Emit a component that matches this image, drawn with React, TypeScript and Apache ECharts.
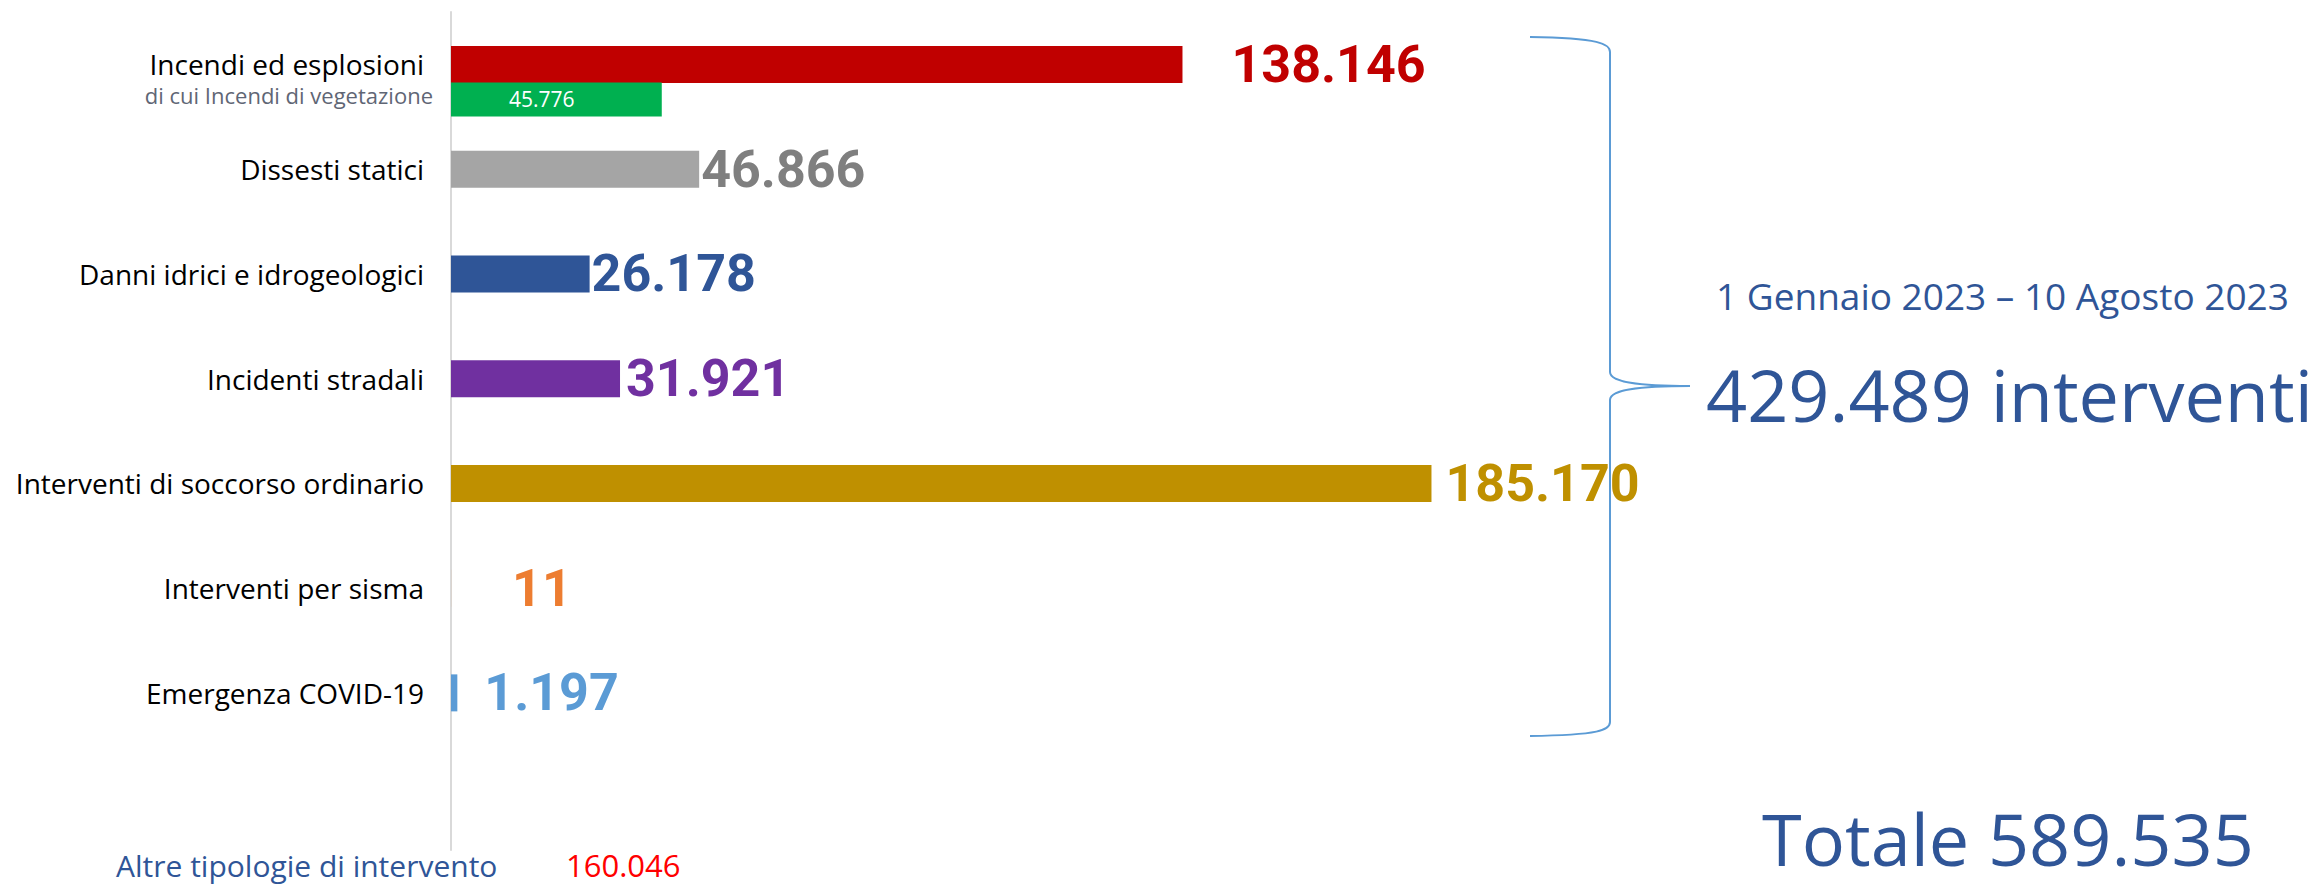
import React, { useEffect, useRef } from "react";
import * as echarts from "echarts";

const categories = [
  "Incendi ed esplosioni",
  "Dissesti statici",
  "Danni idrici e idrogeologici",
  "Incidenti stradali",
  "Interventi di soccorso ordinario",
  "Interventi per sisma",
  "Emergenza COVID-19",
  "",
];
const values = [138146, 46866, 26178, 31921, 185170, 11, 1197];
const barColors = ["#C00000", "#A5A5A5", "#2F5597", "#7030A0", "#BF9000", "#ED7D31", "#5B9BD5"];
const labelColors = ["#C00000", "#7F7F7F", "#2F5597", "#7030A0", "#BF9000", "#ED7D31", "#5B9BD5"];
const labelGaps = [49, 2, 2, 6, 14, 61, 27];

const subCategories = ["di cui Incendi di vegetazione", "", "", "", "", "", "", ""];
const subValues = [45776];

const periodLabel = "1 Gennaio 2023 \u2013 10 Agosto 2023";
const otherLabel = "Altre tipologie di intervento";
const otherValue = 160046;

const fmt = (n: number) => String(n).replace(/\B(?=(\d{3})+(?!\d))/g, ".");

const BLUE = "#2F5597";
const BRACE = "#5B9BD5";
const FONT = "'Open Sans', 'Noto Sans', sans-serif";
const NUM_FONT = "Roboto, 'Noto Sans', sans-serif";

export default function App() {
  const ref = useRef<HTMLDivElement>(null);

  useEffect(() => {
    if (!ref.current) return;
    const chart = echarts.init(ref.current, null, { renderer: "svg" });
    const totalShown = values.reduce((a, b) => a + b, 0);
    const grandTotal = totalShown + otherValue;

    const gridLeft = 451;
    const gridWidth = 1059;

    const braceStyle = { stroke: BRACE, lineWidth: 2, fill: "none" };

    chart.setOption({
      animation: false,
      backgroundColor: "#ffffff",
      grid: [
        { left: gridLeft, top: 12, width: gridWidth, height: 838, containLabel: false },
        { left: gridLeft, top: 47, width: gridWidth, height: 838, containLabel: false },
      ],
      xAxis: [
        { type: "value", gridIndex: 0, min: 0, max: 200000, show: false },
        { type: "value", gridIndex: 1, min: 0, max: 230000, show: false },
      ],
      yAxis: [
        {
          type: "category",
          gridIndex: 0,
          inverse: true,
          data: categories,
          axisLine: { show: true, lineStyle: { color: "#D9D9D9", width: 2 } },
          axisTick: { show: false },
          splitLine: { show: false },
          axisLabel: {
            margin: 27,
            fontSize: 28,
            lineHeight: 30,
            color: "#000000",
            fontFamily: FONT,
          },
        },
        {
          type: "category",
          gridIndex: 1,
          inverse: true,
          data: subCategories,
          axisLine: { show: false },
          axisTick: { show: false },
          splitLine: { show: false },
          axisLabel: {
            margin: 18,
            fontSize: 22,
            color: "#5F6675",
            fontFamily: FONT,
            verticalAlign: "bottom",
            lineHeight: 8,
          },
        },
      ],
      series: [
        {
          type: "bar",
          xAxisIndex: 0,
          yAxisIndex: 0,
          barWidth: 37,
          data: values.map((v, i) => ({
            value: v,
            itemStyle: { color: barColors[i] },
            label: { color: labelColors[i], distance: labelGaps[i] },
          })),
          label: {
            show: true,
            position: "right",
            fontFamily: NUM_FONT,
            fontWeight: "bold",
            fontSize: 52,
            formatter: (p: any) => fmt(p.value),
          },
        },
        {
          type: "bar",
          xAxisIndex: 1,
          yAxisIndex: 1,
          barWidth: 34,
          itemStyle: { color: "#00B050" },
          data: subValues,
          label: {
            show: true,
            position: [58, "50%"],
            verticalAlign: "middle",
            color: "#ffffff",
            fontFamily: FONT,
            fontSize: 21,
            formatter: (p: any) => fmt(p.value),
          },
        },
      ],
      graphic: [
        // curly brace
        { type: "bezierCurve", shape: { x1: 1530, y1: 37, x2: 1610, y2: 52, cpx1: 1600, cpy1: 38, cpx2: 1610, cpy2: 44 }, style: braceStyle },
        { type: "line", shape: { x1: 1610, y1: 52, x2: 1610, y2: 372 }, style: braceStyle },
        { type: "bezierCurve", shape: { x1: 1610, y1: 372, x2: 1690, y2: 386, cpx1: 1610, cpy1: 384, cpx2: 1650, cpy2: 386 }, style: braceStyle },
        { type: "bezierCurve", shape: { x1: 1690, y1: 386, x2: 1610, y2: 400, cpx1: 1650, cpy1: 386, cpx2: 1610, cpy2: 388 }, style: braceStyle },
        { type: "line", shape: { x1: 1610, y1: 400, x2: 1610, y2: 722 }, style: braceStyle },
        { type: "bezierCurve", shape: { x1: 1610, y1: 722, x2: 1530, y2: 736, cpx1: 1610, cpy1: 730, cpx2: 1600, cpy2: 735 }, style: braceStyle },
        {
          type: "text",
          x: 1716,
          y: 295,
          style: { text: periodLabel, fill: BLUE, fontSize: 37, fontFamily: FONT, align: "left", verticalAlign: "middle" },
        },
        {
          type: "text",
          x: 1706,
          y: 394,
          style: { text: fmt(totalShown) + " interventi", fill: BLUE, fontSize: 72, fontFamily: FONT, align: "left", verticalAlign: "middle" },
        },
        {
          type: "text",
          x: 1762,
          y: 838,
          style: { text: "Totale " + fmt(grandTotal), fill: BLUE, fontSize: 72, fontFamily: FONT, align: "left", verticalAlign: "middle" },
        },
        {
          type: "text",
          x: 116,
          y: 865,
          style: { text: otherLabel, fill: BLUE, fontSize: 30, fontFamily: FONT, align: "left", verticalAlign: "middle" },
        },
        {
          type: "text",
          x: 566,
          y: 865,
          style: { text: fmt(otherValue), fill: "#FF0000", fontSize: 31, fontFamily: FONT, align: "left", verticalAlign: "middle" },
        },
      ],
    });

    return () => chart.dispose();
  }, []);

  return (
    <div
      ref={ref}
      style={{ position: "fixed", left: 0, top: 0, width: 2315, height: 886, background: "#fff" }}
    />
  );
}
